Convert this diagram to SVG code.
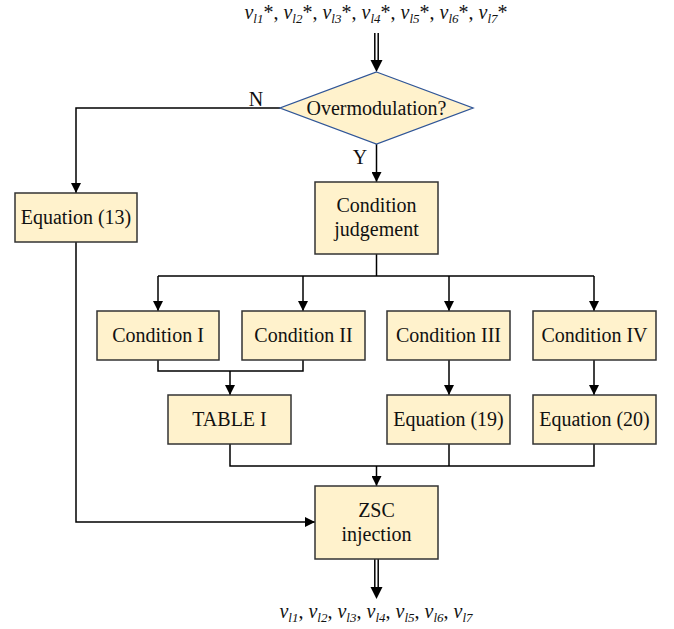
<svg xmlns="http://www.w3.org/2000/svg" width="674" height="629" viewBox="0 0 674 629">
<defs>
<marker id="ah" viewBox="0 0 10 10" refX="10" refY="5" markerWidth="10" markerHeight="10" markerUnits="userSpaceOnUse" orient="auto">
<path d="M0,0 L10,5 L0,10 Z" fill="#000"/>
</marker>
<style>
.box{fill:#FFF2CC;stroke:#333;stroke-width:1.5}
.dia{fill:#FFF2CC;stroke:#2F5597;stroke-width:1.3}
.t{font-family:"Liberation Serif","Times New Roman",serif;font-size:20px;fill:#111;text-anchor:middle}
.ln{fill:none;stroke:#000;stroke-width:1.5}
.ar{fill:none;stroke:#000;stroke-width:1.5;marker-end:url(#ah)}
.it{font-style:italic}
.sb{font-size:13px;font-style:italic}
</style>
</defs>
<rect width="674" height="629" fill="#fff"/>

<text id="input" class="t" x="376" y="19"><tspan class="it">v</tspan><tspan class="sb" dy="4">l1</tspan><tspan dy="-4">*, </tspan><tspan class="it">v</tspan><tspan class="sb" dy="4">l2</tspan><tspan dy="-4">*, </tspan><tspan class="it">v</tspan><tspan class="sb" dy="4">l3</tspan><tspan dy="-4">*, </tspan><tspan class="it">v</tspan><tspan class="sb" dy="4">l4</tspan><tspan dy="-4">*, </tspan><tspan class="it">v</tspan><tspan class="sb" dy="4">l5</tspan><tspan dy="-4">*, </tspan><tspan class="it">v</tspan><tspan class="sb" dy="4">l6</tspan><tspan dy="-4">*, </tspan><tspan class="it">v</tspan><tspan class="sb" dy="4">l7</tspan><tspan dy="-4">*</tspan></text>

<g id="connectors">
<line class="ln" x1="374.8" y1="33" x2="374.8" y2="62"/>
<line class="ln" x1="378.2" y1="33" x2="378.2" y2="62"/>
<path d="M370.5,60 L382.5,60 L376.5,72 Z" fill="#000"/>
<path class="ar" d="M280,108 H76 V193"/>
<path class="ar" d="M376.5,144 V182"/>
<path class="ln" d="M376.5,254 V276"/>
<path class="ln" d="M158,276 H594"/>
<path class="ar" d="M158,276 V311"/>
<path class="ar" d="M303,276 V311"/>
<path class="ar" d="M449,276 V311"/>
<path class="ar" d="M594,276 V311"/>
<path class="ln" d="M158,360 V371 H303 V360"/>
<path class="ar" d="M230,371 V395"/>
<path class="ar" d="M449,360 V395"/>
<path class="ar" d="M594,360 V395"/>
<path class="ln" d="M230,444 V466 H594 V444"/>
<path class="ln" d="M449,444 V466"/>
<path class="ar" d="M376.5,466 V486"/>
<path class="ar" d="M76,242 V522 H315"/>
<line class="ln" x1="374.8" y1="559" x2="374.8" y2="588"/>
<line class="ln" x1="378.2" y1="559" x2="378.2" y2="588"/>
<path d="M370.5,587 L382.5,587 L376.5,599 Z" fill="#000"/>
<text class="t" x="256" y="106">N</text>
<text class="t" x="360" y="164">Y</text>
</g>

<g id="overmod">
<path class="dia" d="M376.5,72 L473,108 L376.5,144 L280,108 Z"/>
<text class="t" x="376.5" y="115">Overmodulation?</text>
</g>
<g id="eq13">
<rect class="box" x="15" y="193" width="122" height="49"/>
<text class="t" x="76" y="224">Equation (13)</text>
</g>
<g id="judge">
<rect class="box" x="315" y="182" width="123" height="72"/>
<text class="t" x="376.5" y="212">Condition</text>
<text class="t" x="376.5" y="236">judgement</text>
</g>
<g id="c1">
<rect class="box" x="97" y="311" width="122" height="49"/>
<text class="t" x="158" y="342">Condition I</text>
</g>
<g id="c2">
<rect class="box" x="242" y="311" width="123" height="49"/>
<text class="t" x="303.5" y="342">Condition II</text>
</g>
<g id="c3">
<rect class="box" x="387" y="311" width="123" height="49"/>
<text class="t" x="448.5" y="342">Condition III</text>
</g>
<g id="c4">
<rect class="box" x="533" y="311" width="123" height="49"/>
<text class="t" x="594.5" y="342">Condition IV</text>
</g>
<g id="table1">
<rect class="box" x="168" y="395" width="123" height="49"/>
<text class="t" x="229.5" y="426">TABLE I</text>
</g>
<g id="eq19">
<rect class="box" x="387" y="395" width="123" height="49"/>
<text class="t" x="448.5" y="426">Equation (19)</text>
</g>
<g id="eq20">
<rect class="box" x="533" y="395" width="123" height="49"/>
<text class="t" x="594.5" y="426">Equation (20)</text>
</g>
<g id="zsc">
<rect class="box" x="315" y="486" width="123" height="73"/>
<text class="t" x="376.5" y="517">ZSC</text>
<text class="t" x="376.5" y="541">injection</text>
</g>

<text id="output" class="t" x="376" y="618"><tspan class="it">v</tspan><tspan class="sb" dy="4">l1</tspan><tspan dy="-4">, </tspan><tspan class="it">v</tspan><tspan class="sb" dy="4">l2</tspan><tspan dy="-4">, </tspan><tspan class="it">v</tspan><tspan class="sb" dy="4">l3</tspan><tspan dy="-4">, </tspan><tspan class="it">v</tspan><tspan class="sb" dy="4">l4</tspan><tspan dy="-4">, </tspan><tspan class="it">v</tspan><tspan class="sb" dy="4">l5</tspan><tspan dy="-4">, </tspan><tspan class="it">v</tspan><tspan class="sb" dy="4">l6</tspan><tspan dy="-4">, </tspan><tspan class="it">v</tspan><tspan class="sb" dy="4">l7</tspan></text>
</svg>
